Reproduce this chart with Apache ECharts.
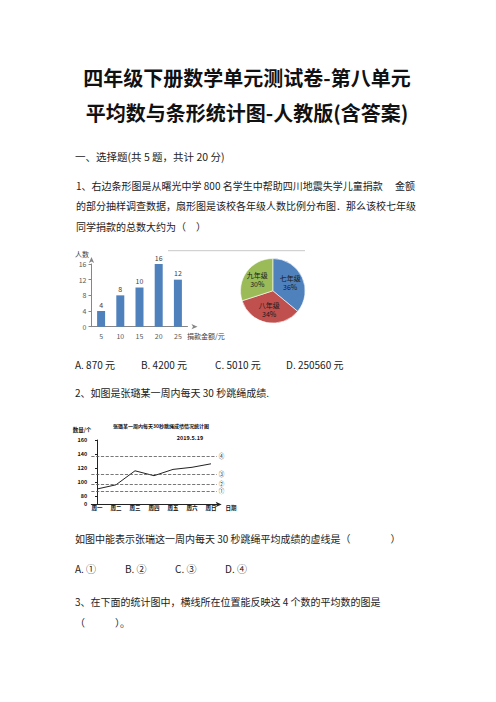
<!DOCTYPE html>
<html>
<head>
<meta charset="utf-8">
<script src="https://cdn.jsdelivr.net/npm/echarts@6/dist/echarts.min.js"></script>
<style>
html,body{margin:0;padding:0;background:#fff;}
#page{width:496px;height:702px;}
</style>
</head>
<body>
<div id="page"></div>
<script>
// ---------- data ----------
const titleLines = ['四年级下册数学单元测试卷-第八单元', '平均数与条形统计图-人教版(含答案)'];
const sectionHeading = '一、选择题(共 5 题，共计 20 分)';
const q1Lines = [
  '1、右边条形图是从曙光中学 800 名学生中帮助四川地震失学儿童捐款　 金额',
  '的部分抽样调查数据，扇形图是该校各年级人数比例分布图．那么该校七年级',
  '同学捐款的总数大约为（　）'
];
const q1Options = ['A. 870 元', 'B. 4200 元', 'C. 5010 元', 'D. 250560 元'];
const q2Line = '2、如图是张璐某一周内每天 30 秒跳绳成绩.';
const q2Ask = '如图中能表示张瑞这一周内每天 30 秒跳绳平均成绩的虚线是（　　　　）';
const q2Options = ['A. ①', 'B. ②', 'C. ③', 'D. ④'];
const q3Lines = ['3、在下面的统计图中，横线所在位置能反映这 4 个数的平均数的图是', '（　　　）。'];

const barCategories = ['5', '10', '15', '20', '25'];
const barValues = [4, 8, 10, 16, 12];
const barAxisNames = ['人数', '捐款金额/元'];

const pieNames = ['七年级', '八年级', '九年级'];
const pieValues = [36, 34, 30];

const lineTitle = '张璐某一周内每天30秒跳绳成绩情况统计图';
const lineDate = '2019.5.19';
const lineAxisNames = ['数量/个', '日期'];
const days = ['周一', '周二', '周三', '周四', '周五', '周六', '周日'];
const jumpScores = [90, 96, 116, 109, 118, 121, 126];
const lineYTicks = [68, 80, 100, 120, 140, 160]; // 68 stands for the broken "0"
const dashLevels = [87, 97, 111, 137];
const dashMarks = ['①', '②', '③', '④'];

// ---------- helpers ----------
const CJK = '"Noto Sans CJK SC", "Noto Sans", sans-serif';
function txt(text, x, y, o) {
  o = o || {};
  return {
    type: 'text', silent: true,
    style: {
      text: text, x: x, y: y,
      fontSize: o.size || 10, fontFamily: CJK,
      fontWeight: o.weight || 'normal',
      fill: o.color || '#222',
      align: o.align || 'left', verticalAlign: 'middle'
    }
  };
}

const graphics = [];
graphics.push(txt(titleLines[0], 247, 77, {size: 20, weight: 'bold', align: 'center', color: '#111'}));
graphics.push(txt(titleLines[1], 247, 112, {size: 20, weight: 'bold', align: 'center', color: '#111'}));
graphics.push(txt(sectionHeading, 75, 156, {size: 10.5}));
const q1Y = [185, 205, 226];
q1Lines.forEach((t, i) => graphics.push(txt(t, 76, q1Y[i], {size: 10})));
const q1X = [75, 141, 215, 286];
q1Options.forEach((t, i) => graphics.push(txt(t, q1X[i], 364, {size: 10})));
graphics.push(txt(q2Line, 75, 392, {size: 10}));
graphics.push(txt(q2Ask, 75, 538, {size: 10}));
const q2X = [75, 125, 175, 225];
q2Options.forEach((t, i) => graphics.push(txt(t, q2X[i], 568, {size: 10})));
graphics.push(txt(q3Lines[0], 75, 601, {size: 10}));
graphics.push(txt(q3Lines[1], 75, 622, {size: 10}));

// bar chart axis names
graphics.push(txt(barAxisNames[0], 82, 254, {size: 7, align: 'center', color: '#404040'}));
graphics.push(txt(barAxisNames[1], 187, 336, {size: 7, color: '#404040'}));
// frame line above pie
graphics.push({type: 'line', silent: true, shape: {x1: 168, y1: 250.7, x2: 305, y2: 250.7},
  style: {stroke: '#c8c8c8', lineWidth: 1}});
// line chart texts
graphics.push(txt(lineTitle, 161, 425, {size: 5, weight: 'bold', align: 'center', color: '#111'}));
graphics.push(txt(lineDate, 190, 437.5, {size: 5.5, weight: 'bold', align: 'center', color: '#111'}));
graphics.push(txt(lineAxisNames[0], 82, 430, {size: 5.5, weight: 'bold', align: 'center', color: '#111'}));
graphics.push(txt(lineAxisNames[1], 231, 508, {size: 5.5, weight: 'bold', align: 'center', color: '#111'}));

const chart = echarts.init(document.getElementById('page'), null, {renderer: 'svg', width: 496, height: 702});
chart.setOption({
  animation: false,
  backgroundColor: '#fff',
  textStyle: {fontFamily: CJK},
  grid: [
    {left: 91.5, top: 264, width: 96, height: 62.7},
    {left: 91.3, top: 440, width: 125.4, height: 64.4}
  ],
  xAxis: [
    {
      type: 'category', gridIndex: 0, data: barCategories,
      axisLine: {lineStyle: {color: '#868686', width: 1}, symbol: ['none', 'arrow'], symbolSize: [4, 6], symbolOffset: [0, 10]},
      axisTick: {show: false},
      axisLabel: {fontSize: 7, color: '#595959', margin: 6}
    },
    {
      type: 'value', gridIndex: 1, min: -0.3, max: 6.3,
      axisLine: {lineStyle: {color: '#222', width: 1}, symbol: ['none', 'arrow'], symbolSize: [4, 6], symbolOffset: [0, 5]},
      axisTick: {show: false},
      splitLine: {show: false},
      axisLabel: {
        customValues: days.map((d, i) => i),
        formatter: v => days[v] || '',
        fontSize: 5.5, fontWeight: 'bold', color: '#111', margin: 1
      }
    }
  ],
  yAxis: [
    {
      type: 'value', gridIndex: 0, min: 0, max: 16, interval: 4,
      axisLine: {show: true, lineStyle: {color: '#868686', width: 1}, symbol: ['none', 'arrow'], symbolSize: [4, 6], symbolOffset: [0, 7]},
      axisTick: {show: true, length: 3, lineStyle: {color: '#868686'}},
      splitLine: {show: false},
      axisLabel: {fontSize: 7, color: '#595959', margin: 5}
    },
    {
      type: 'value', gridIndex: 1, min: 68, max: 160,
      axisLine: {show: true, lineStyle: {color: '#222', width: 1}},
      axisTick: {show: true, length: 2, customValues: lineYTicks, lineStyle: {color: '#222'}},
      splitLine: {show: false},
      axisLabel: {
        customValues: lineYTicks,
        formatter: v => (v === 68 ? '0' : String(v)),
        fontSize: 5.5, fontWeight: 'bold', color: '#111', margin: 4
      }
    }
  ],
  series: [
    {
      type: 'bar', xAxisIndex: 0, yAxisIndex: 0, data: barValues, barWidth: 8,
      itemStyle: {color: '#4F81BD'},
      label: {show: true, position: 'top', distance: 3, fontSize: 7, color: '#404040'}
    },
    {
      type: 'pie', center: [272.8, 290.8], radius: 32.3, startAngle: 90, clockwise: true,
      data: pieNames.map((n, i) => ({name: n, value: pieValues[i]})),
      color: ['#4F81BD', '#C0504D', '#9BBB59'],
      itemStyle: {borderColor: '#ffffff', borderWidth: 0.6},
      label: {
        show: true, position: 'inside', formatter: '{b}\n{c}%', fontSize: 7, lineHeight: 9,
        color: '#1a1a1a'
      },
      labelLine: {show: false},
      silent: true
    },
    {
      type: 'line', xAxisIndex: 1, yAxisIndex: 1,
      data: jumpScores.map((v, i) => [i, v]),
      symbol: 'none',
      lineStyle: {color: '#222', width: 1},
      label: {show: true, position: 'top', distance: 2, fontSize: 5.5, fontWeight: 'bold', color: '#111'},
      markLine: {
        silent: true, symbol: 'none',
        lineStyle: {type: 'dashed', color: '#555', width: 0.8},
        label: {show: true, position: 'end', formatter: '{b}', fontSize: 5.5, color: '#222', distance: 2},
        data: dashLevels.map((v, i) => ({yAxis: v, name: dashMarks[i]}))
      }
    }
  ],
  graphic: graphics
});
</script>
</body>
</html>
